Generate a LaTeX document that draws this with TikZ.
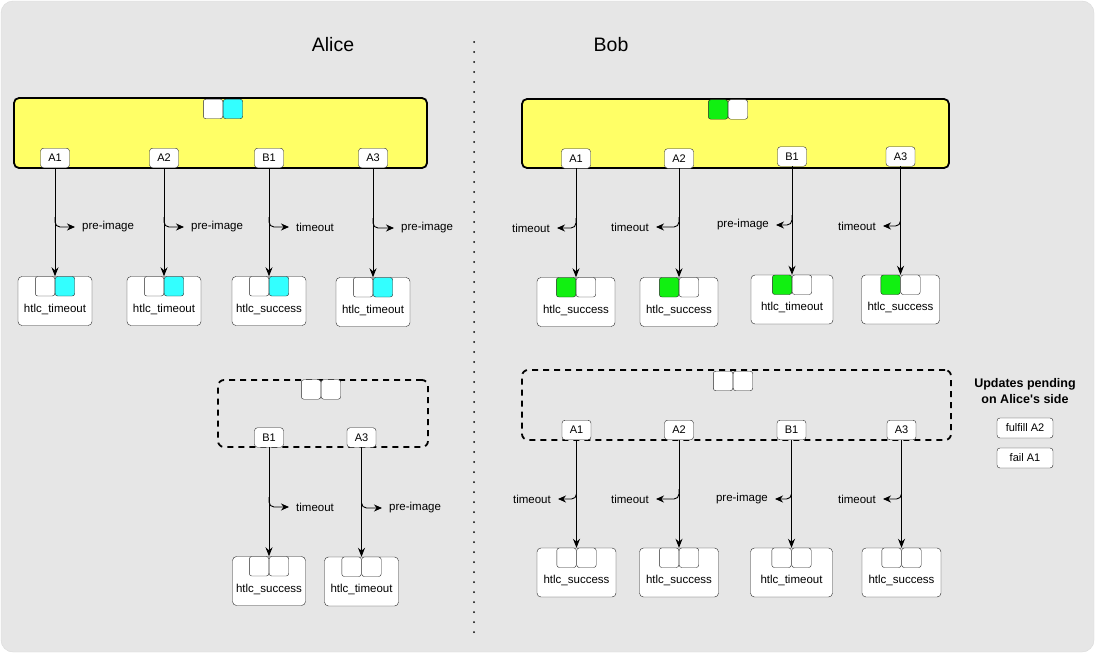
\documentclass[tikz,border=0pt]{standalone}
\usepackage{fontspec}
\setmainfont{Liberation Sans}
\usetikzlibrary{arrows.meta, positioning}

\definecolor{bgGray}{HTML}{E6E6E6}
\definecolor{commitYellow}{HTML}{FFFF66}
\definecolor{aliceCyan}{HTML}{33FFFF}
\definecolor{bobGreen}{HTML}{11F011}

\begin{document}
\begin{tikzpicture}
  [
    x                 = 1pt,
    y                 = -1pt,
    every node/.style = {font=\fontsize{11}{13}\selectfont},
    title/.style      = {font=\fontsize{19.5}{22}\selectfont},
    commit/.style     = {draw, line width=1.8pt, rounded corners=5pt, fill=commitYellow},
    pending/.style    = {draw, line width=1.8pt, rounded corners=6pt, dash pattern=on 6pt off 5pt},
    htlc/.style       = {draw=black!85, fill=white, rounded corners=3pt, minimum width=29pt, minimum height=19.5pt, inner sep=0pt},
    slot/.style       = {draw=black!85, fill=white, rounded corners=2.5pt, minimum width=19.5pt, minimum height=19.5pt, inner sep=0pt},
    tx/.style         = {draw=black!85, fill=white, rounded corners=4pt, minimum height=49pt, inner sep=0pt, text height=22pt, text depth=0pt, font=\fontsize{11.5}{13}\selectfont},
    spend/.style      = {draw, line width=0.9pt, -{Stealth[length=9pt, width=7pt]}},
    hook/.style       = {draw, line width=0.9pt, rounded corners=5pt, -{Stealth[length=8pt, width=7pt]}, shorten >=6pt},
    reason/.style     = {inner sep=1pt, font=\fontsize{11.5}{13}\selectfont}
  ]

  \useasboundingbox (0,0) rectangle (1095,653);
  \draw[draw=black!15, fill=bgGray, rounded corners=12pt] (1,1) rectangle (1094,652);

  \coordinate (divTop) at (474,42);
  \coordinate (divBot) at (474,641);
  \draw[line width=2pt, line cap=round, dash pattern=on 0pt off 10pt] (divTop) -- (divBot);

  \node[title] (alice) at (333,45) {Alice};
  \node[title] (bob)   at (611,45) {Bob};

  % Alice: current commitment
  \node[commit, minimum width=413pt, minimum height=70pt] (aliceTx) at (220.5,133) {};
  \node[slot, anchor=north east] (aliceTxL) at (223,99) {};
  \node[slot, anchor=north west, fill=aliceCyan] (aliceTxR) at (223,99) {};

  \node[htlc] (aA1) at (55,158)  {A1};
  \node[htlc] (aA2) at (164,158) {A2};
  \node[htlc] (aB1) at (269,158) {B1};
  \node[htlc] (aA3) at (373,158) {A3};

  \node[tx, minimum width=74pt] (oaA1) at (55,301)  {htlc\_timeout};
  \node[tx, minimum width=74pt] (oaA2) at (164,301) {htlc\_timeout};
  \node[tx, minimum width=74pt] (oaB1) at (269,301) {htlc\_success};
  \node[tx, minimum width=74pt] (oaA3) at (373,302) {htlc\_timeout};
  \node[slot, anchor=north east] (oaA1l) at (oaA1.north) {};
  \node[slot, anchor=north west, fill=aliceCyan] (oaA1r) at (oaA1.north) {};
  \node[slot, anchor=north east] (oaA2l) at (oaA2.north) {};
  \node[slot, anchor=north west, fill=aliceCyan] (oaA2r) at (oaA2.north) {};
  \node[slot, anchor=north east] (oaB1l) at (oaB1.north) {};
  \node[slot, anchor=north west, fill=aliceCyan] (oaB1r) at (oaB1.north) {};
  \node[slot, anchor=north east] (oaA3l) at (oaA3.north) {};
  \node[slot, anchor=north west, fill=aliceCyan] (oaA3r) at (oaA3.north) {};

  \node[reason, anchor=west] (raA1) at (81,227)  {pre-image};
  \node[reason, anchor=west] (raA2) at (190,227) {pre-image};
  \node[reason, anchor=west] (raB1) at (295,227) {timeout};
  \node[reason, anchor=west] (raA3) at (400,228) {pre-image};
  \coordinate (haA1) at (55,217);
  \coordinate (haA2) at (164,217);
  \coordinate (haB1) at (269,217);
  \coordinate (haA3) at (373,218);

  \draw[spend] (aA1) -- (oaA1);
  \draw[spend] (aA2) -- (oaA2);
  \draw[spend] (aB1) -- (oaB1);
  \draw[spend] (aA3) -- (oaA3);
  \draw[hook] (haA1) |- (raA1);
  \draw[hook] (haA2) |- (raA2);
  \draw[hook] (haB1) |- (raB1);
  \draw[hook] (haA3) |- (raA3);

  % Alice: next commitment
  \node[pending, minimum width=210pt, minimum height=67pt] (aliceNext) at (323,413.5) {};
  \node[slot, anchor=north east] (aliceNextL) at (321,379.5) {};
  \node[slot, anchor=north west] (aliceNextR) at (321,379.5) {};

  \node[htlc] (naB1) at (269,437.5)   {B1};
  \node[htlc] (naA3) at (361.5,437.5) {A3};

  \node[tx, minimum width=73pt] (onaB1) at (269,581)   {htlc\_success};
  \node[tx, minimum width=74pt] (onaA3) at (361.5,581.5) {htlc\_timeout};
  \node[slot, anchor=north east] (onaB1l) at (onaB1.north) {};
  \node[slot, anchor=north west] (onaB1r) at (onaB1.north) {};
  \node[slot, anchor=north east] (onaA3l) at (onaA3.north) {};
  \node[slot, anchor=north west] (onaA3r) at (onaA3.north) {};

  \node[reason, anchor=west] (rnaB1) at (295,507) {timeout};
  \node[reason, anchor=west] (rnaA3) at (388,508) {pre-image};
  \coordinate (hnaB1) at (269,497);
  \coordinate (hnaA3) at (361.5,498);

  \draw[spend] (naB1) -- (onaB1);
  \draw[spend] (naA3) -- (onaA3);
  \draw[hook] (hnaB1) |- (rnaB1);
  \draw[hook] (hnaA3) |- (rnaA3);

  % Bob: current commitment
  \node[commit, minimum width=427pt, minimum height=69pt] (bobTx) at (735.5,133.5) {};
  \node[slot, anchor=north east, fill=bobGreen] (bobTxL) at (728,99.5) {};
  \node[slot, anchor=north west] (bobTxR) at (728,99.5) {};

  \node[htlc] (bA1) at (576,158.5)   {A1};
  \node[htlc] (bA2) at (679,158.5)   {A2};
  \node[htlc] (bB1) at (792,156.5)   {B1};
  \node[htlc] (bA3) at (900.5,156.5) {A3};

  \node[tx, minimum width=78pt] (obA1) at (576,302)     {htlc\_success};
  \node[tx, minimum width=78pt] (obA2) at (679,302)     {htlc\_success};
  \node[tx, minimum width=82pt] (obB1) at (792,299.5)   {htlc\_timeout};
  \node[tx, minimum width=78pt] (obA3) at (900.5,299.5) {htlc\_success};
  \node[slot, anchor=north east, fill=bobGreen] (obA1l) at (obA1.north) {};
  \node[slot, anchor=north west] (obA1r) at (obA1.north) {};
  \node[slot, anchor=north east, fill=bobGreen] (obA2l) at (obA2.north) {};
  \node[slot, anchor=north west] (obA2r) at (obA2.north) {};
  \node[slot, anchor=north east, fill=bobGreen] (obB1l) at (obB1.north) {};
  \node[slot, anchor=north west] (obB1r) at (obB1.north) {};
  \node[slot, anchor=north east, fill=bobGreen] (obA3l) at (obA3.north) {};
  \node[slot, anchor=north west] (obA3r) at (obA3.north) {};

  \node[reason, anchor=east] (rbA1) at (551,228) {timeout};
  \node[reason, anchor=east] (rbA2) at (650,227) {timeout};
  \node[reason, anchor=east] (rbB1) at (770,225) {pre-image};
  \node[reason, anchor=east] (rbA3) at (877,226) {timeout};
  \coordinate (hbA1) at (576,218);
  \coordinate (hbA2) at (679,217);
  \coordinate (hbB1) at (792,215);
  \coordinate (hbA3) at (900.5,216);

  \draw[spend] (bA1) -- (obA1);
  \draw[spend] (bA2) -- (obA2);
  \draw[spend] (bB1) -- (obB1);
  \draw[spend] (bA3) -- (obA3);
  \draw[hook] (hbA1) |- (rbA1);
  \draw[hook] (hbA2) |- (rbA2);
  \draw[hook] (hbB1) |- (rbB1);
  \draw[hook] (hbA3) |- (rbA3);

  % Bob: next commitment
  \node[pending, minimum width=429pt, minimum height=70pt] (bobNext) at (736.5,405) {};
  \node[slot, anchor=north east] (bobNextL) at (733,371) {};
  \node[slot, anchor=north west] (bobNextR) at (733,371) {};

  \node[htlc] (nbA1) at (576.5,430) {A1};
  \node[htlc] (nbA2) at (679,430)   {A2};
  \node[htlc] (nbB1) at (791.5,430) {B1};
  \node[htlc] (nbA3) at (901.5,430) {A3};

  \node[tx, minimum width=79pt] (onbA1) at (576.5,572.5) {htlc\_success};
  \node[tx, minimum width=79pt] (onbA2) at (679,572.5)   {htlc\_success};
  \node[tx, minimum width=82pt] (onbB1) at (791.5,572.5) {htlc\_timeout};
  \node[tx, minimum width=79pt] (onbA3) at (901.5,572.5) {htlc\_success};
  \node[slot, anchor=north east] (onbA1l) at (onbA1.north) {};
  \node[slot, anchor=north west] (onbA1r) at (onbA1.north) {};
  \node[slot, anchor=north east] (onbA2l) at (onbA2.north) {};
  \node[slot, anchor=north west] (onbA2r) at (onbA2.north) {};
  \node[slot, anchor=north east] (onbB1l) at (onbB1.north) {};
  \node[slot, anchor=north west] (onbB1r) at (onbB1.north) {};
  \node[slot, anchor=north east] (onbA3l) at (onbA3.north) {};
  \node[slot, anchor=north west] (onbA3r) at (onbA3.north) {};

  \node[reason, anchor=east] (rnbA1) at (552,499) {timeout};
  \node[reason, anchor=east] (rnbA2) at (650,499) {timeout};
  \node[reason, anchor=east] (rnbB1) at (769,499) {pre-image};
  \node[reason, anchor=east] (rnbA3) at (877,499) {timeout};
  \coordinate (hnbA1) at (576.5,489);
  \coordinate (hnbA2) at (679,489);
  \coordinate (hnbB1) at (791.5,489);
  \coordinate (hnbA3) at (901.5,489);

  \draw[spend] (nbA1) -- (onbA1);
  \draw[spend] (nbA2) -- (onbA2);
  \draw[spend] (nbB1) -- (onbB1);
  \draw[spend] (nbA3) -- (onbA3);
  \draw[hook] (hnbA1) |- (rnbA1);
  \draw[hook] (hnbA2) |- (rnbA2);
  \draw[hook] (hnbB1) |- (rnbB1);
  \draw[hook] (hnbA3) |- (rnbA3);

  % pending updates
  \node[font=\bfseries\fontsize{12.5}{16}\selectfont, align=center] (pendNote) at (1025,391) {Updates pending\\on Alice\textquotesingle s side};
  \node[htlc, minimum width=56pt, minimum height=20pt] (upFulfill) at (1025,428) {fulfill A2};
  \node[htlc, minimum width=56pt, minimum height=20pt] (upFail)    at (1025,458) {fail A1};
\end{tikzpicture}
\end{document}
